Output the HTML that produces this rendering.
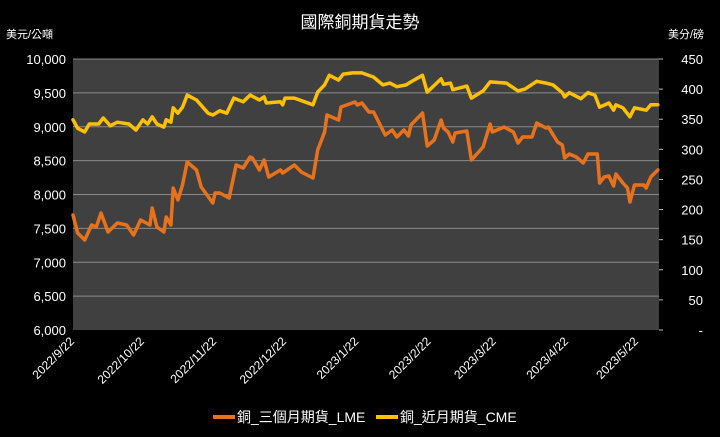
<!DOCTYPE html>
<html><head><meta charset="utf-8"><style>
html,body{margin:0;padding:0;background:#000;}
svg{display:block;font-family:"Liberation Sans","Noto Sans CJK TC",sans-serif;}
</style></head><body>
<svg id="chart" width="720" height="437" viewBox="0 0 720 437" xmlns="http://www.w3.org/2000/svg">
<rect width="720" height="437" fill="#000"/>
<text x="360" y="28" fill="#fff" font-size="17" text-anchor="middle">國際銅期貨走勢</text>
<text x="6" y="38" fill="#fff" font-size="11">美元/公噸</text>
<text x="668" y="38" fill="#fff" font-size="11">美分/磅</text>
<rect x="73" y="59" width="586" height="271" fill="#404040"/>
<g id="grid"></g><g id="axes"></g><g id="lines"></g>
<g>
<line x1="213" y1="417" x2="235" y2="417" stroke="#e8721c" stroke-width="4"/>
<text x="237" y="422" fill="#fff" font-size="14">銅_三個月期貨_LME</text>
<line x1="376" y1="417" x2="398" y2="417" stroke="#ffc000" stroke-width="4"/>
<text x="400" y="422" fill="#fff" font-size="14">銅_近月期貨_CME</text>
</g>
</svg>
<script>
const lmeDays=[0,2,5,8,10,12,15,19,23,26,29,33,34,36,39,40,42,43,45,47,49,53,55,60,61,63,67,70,73,76,77,80,82,84,89,90,95,98,103,105,108,109,114,115,121,122,124,127,129,134,137,139,142,144,145,150,152,155,158,159,161,163,164,169,171,176,179,180,185,189,191,193,197,199,203,204,208,210,211,213,216,219,221,225,226,228,230,232,233,236,238,239,241,245,246,248,251];
const lmeValues=[7698,7432,7328,7550,7520,7727,7446,7579,7550,7402,7624,7550,7801,7520,7446,7668,7550,8096,7919,8140,8480,8362,8111,7875,8022,8022,7948,8435,8391,8554,8539,8362,8509,8258,8362,8317,8435,8332,8244,8657,8923,9173,9100,9292,9365,9321,9351,9218,9218,8878,8952,8849,8952,8863,9026,9203,8716,8804,9100,8982,8923,8775,8908,8937,8509,8701,9041,8923,8996,8923,8760,8849,8849,9055,8982,8996,8775,8731,8539,8598,8554,8465,8598,8598,8170,8258,8273,8125,8303,8170,8096,7889,8140,8140,8096,8258,8362];
const cmeDays=[0,2,5,7,11,13,16,19,24,27,30,32,34,36,39,40,42,43,45,47,49,53,58,60,63,66,69,73,76,80,82,83,89,90,91,95,103,105,108,110,114,116,120,124,129,133,136,139,143,145,150,152,158,159,162,163,169,171,176,179,186,191,194,199,203,206,210,211,213,218,221,224,226,230,232,233,236,239,241,246,248,251];
const cmeValues=[349,335,329,342,342,352,339,345,342,332,349,342,354,342,337,349,345,369,360,370,390,382,360,357,364,360,385,379,390,382,387,377,379,374,385,385,374,395,407,423,415,425,427,427,420,407,410,404,407,412,423,395,417,408,410,399,405,385,397,412,410,397,400,413,410,407,394,387,394,384,394,390,370,377,365,374,369,354,369,365,374,374];
const leftTicks=[6000,6500,7000,7500,8000,8500,9000,9500,10000];
const leftTickLabels=["6,000","6,500","7,000","7,500","8,000","8,500","9,000","9,500","10,000"];
const rightTicks=[0,50,100,150,200,250,300,350,400,450];
const rightTickLabels=["-","50","100","150","200","250","300","350","400","450"];
const dateTickDays=[0,30,61,91,122,153,181,212,242];
const dateTickLabels=["2022/9/22","2022/10/22","2022/11/22","2022/12/22","2023/1/22","2023/2/22","2023/3/22","2023/4/22","2023/5/22"];

const X0=73,X1=659,Y0=330,Y1=59,DMAX=251.5;
const NS="http://www.w3.org/2000/svg";
function xs(d){return X0+d*(X1-X0)/DMAX;}
function yl(v){return Y0-(v-6000)/4000*(Y0-Y1);}
function yr(v){return Y0-v/450*(Y0-Y1);}
function mk(tag,attrs,parent,txt){const e=document.createElementNS(NS,tag);for(const k in attrs)e.setAttribute(k,attrs[k]);if(txt!==undefined)e.textContent=txt;parent.appendChild(e);return e;}
const grid=document.getElementById('grid'),axes=document.getElementById('axes'),lines=document.getElementById('lines');
leftTicks.forEach((v,i)=>{
  if(i>0){const g=mk('line',{x1:X0,x2:X1,y1:yl(v),y2:yl(v),stroke:'#8a8a8a','stroke-width':1},grid);
  
  }
  const t=mk('text',{x:66,y:yl(v)+5,fill:'#fff','font-size':13,'text-anchor':'end'},axes,leftTickLabels[i]);
  
  
});
rightTicks.forEach((v,i)=>{
  const tk=mk('line',{x1:X1,x2:X1+4,y1:yr(v),y2:yr(v),stroke:'#bbb','stroke-width':1},axes);
  
  
  const t=mk('text',{x:703,y:yr(v)+5,fill:'#fff','font-size':13,'text-anchor':'end'},axes,rightTickLabels[i]);
  
  
});
dateTickDays.forEach((d,i)=>{
  const x=xs(d);
  const t=mk('text',{x:x+2,y:Y0+12,fill:'#fff','font-size':12,'text-anchor':'end',transform:`rotate(-45 ${x+2} ${Y0+12})`},axes,dateTickLabels[i]);
  
  
});
function path(days,vals,ys,color,name){
  const d=days.map((dd,i)=>(i?'L':'M')+xs(dd).toFixed(1)+','+ys(vals[i]).toFixed(1)).join('');
  const p=mk('path',{d:d,fill:'none',stroke:color,'stroke-width':3.5,'stroke-linejoin':'round','stroke-linecap':'round'},lines);
  
  
}
path(cmeDays,cmeValues,yr,'#ffc000','cme-line');
path(lmeDays,lmeValues,yl,'#e8721c','lme-line');
</script>
</body></html>
